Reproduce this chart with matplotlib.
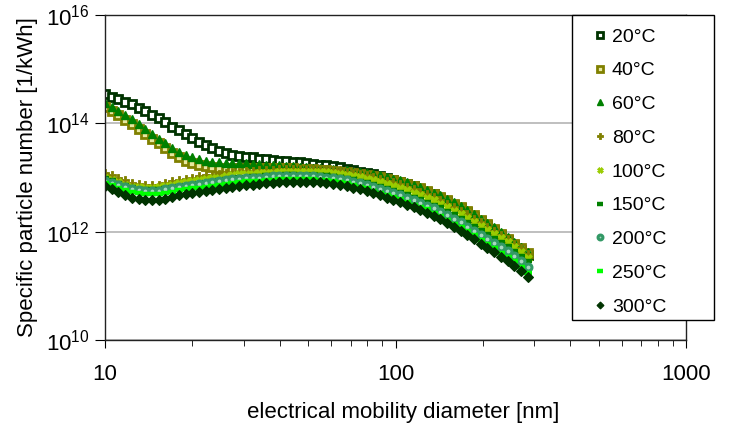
import numpy as np
import matplotlib
matplotlib.use('Agg')
import matplotlib.pyplot as plt
from matplotlib.patches import Rectangle
from matplotlib.ticker import FixedLocator, FixedFormatter, NullLocator, LogLocator, NullFormatter

plt.rcParams['font.family'] = ['Liberation Sans', 'DejaVu Sans']
plt.rcParams['mathtext.fontset'] = 'custom'
plt.rcParams['mathtext.rm'] = 'Liberation Sans'
plt.rcParams['mathtext.default'] = 'regular'

# ────────────────────────────────────────────────────────────────────────────────
# SMPS channel diameters [nm]
diam = [10.0, 10.55, 11.12, 11.73, 12.37, 13.05, 13.76, 14.51, 15.30, 16.14,
        17.02, 17.95, 18.93, 19.96, 21.05, 22.20, 23.42, 24.70, 26.04, 27.47,
        28.97, 30.55, 32.22, 33.98, 35.83, 37.79, 39.85, 42.03, 44.32, 46.75,
        49.30, 51.99, 54.83, 57.83, 60.98, 64.31, 67.83, 71.53, 75.44, 79.56,
        83.90, 88.48, 93.32, 98.41, 103.8, 109.5, 115.4, 121.7, 128.4, 135.4,
        142.8, 150.6, 158.8, 167.5, 176.6, 186.3, 196.4, 207.2, 218.5, 230.4,
        243.0, 256.3, 270.3, 285.0]

# log10 of specific particle number [1/kWh]
log_n_20 = [14.54, 14.49, 14.45, 14.40, 14.35, 14.29, 14.23, 14.16, 14.09, 14.02,
            13.94, 13.87, 13.80, 13.73, 13.66, 13.60, 13.54, 13.49, 13.45, 13.42,
            13.40, 13.38, 13.37, 13.35, 13.34, 13.33, 13.31, 13.30, 13.29, 13.28,
            13.27, 13.25, 13.24, 13.23, 13.21, 13.19, 13.16, 13.14, 13.11, 13.09,
            13.06, 13.03, 13.00, 12.96, 12.92, 12.88, 12.84, 12.79, 12.74, 12.69,
            12.63, 12.57, 12.50, 12.43, 12.36, 12.28, 12.20, 12.12, 12.03, 11.94,
            11.85, 11.76, 11.67, 11.57]
log_n_40 = [14.30, 14.23, 14.15, 14.07, 13.99, 13.90, 13.81, 13.72, 13.63, 13.54,
            13.45, 13.37, 13.31, 13.26, 13.23, 13.21, 13.19, 13.18, 13.18, 13.18,
            13.18, 13.18, 13.18, 13.18, 13.18, 13.18, 13.17, 13.17, 13.17, 13.16,
            13.16, 13.15, 13.14, 13.13, 13.12, 13.11, 13.10, 13.08, 13.07, 13.05,
            13.03, 13.01, 12.98, 12.95, 12.92, 12.88, 12.84, 12.80, 12.75, 12.70,
            12.64, 12.58, 12.52, 12.45, 12.38, 12.30, 12.22, 12.14, 12.05, 11.96,
            11.87, 11.78, 11.69, 11.60]
log_n_60 = [14.37, 14.30, 14.23, 14.16, 14.08, 13.99, 13.90, 13.81, 13.72, 13.63,
            13.55, 13.48, 13.42, 13.37, 13.34, 13.31, 13.29, 13.28, 13.27, 13.27,
            13.26, 13.26, 13.25, 13.25, 13.24, 13.23, 13.23, 13.22, 13.21, 13.20,
            13.19, 13.18, 13.17, 13.16, 13.15, 13.14, 13.13, 13.11, 13.10, 13.08,
            13.06, 13.04, 13.01, 12.98, 12.95, 12.91, 12.87, 12.83, 12.77, 12.72,
            12.67, 12.61, 12.54, 12.47, 12.40, 12.32, 12.24, 12.16, 12.08, 11.99,
            11.90, 11.81, 11.72, 11.62]
log_n_80 = [13.09, 13.05, 12.99, 12.95, 12.90, 12.88, 12.86, 12.86, 12.87, 12.89,
            12.93, 12.96, 12.98, 13.00, 13.02, 13.04, 13.05, 13.07, 13.08, 13.10,
            13.11, 13.12, 13.12, 13.13, 13.13, 13.14, 13.15, 13.16, 13.16, 13.15,
            13.15, 13.16, 13.15, 13.15, 13.14, 13.13, 13.11, 13.09, 13.07, 13.04,
            13.01, 12.98, 12.94, 12.91, 12.88, 12.83, 12.79, 12.74, 12.70, 12.64,
            12.59, 12.52, 12.46, 12.39, 12.32, 12.24, 12.17, 12.09, 12.02, 11.94,
            11.87, 11.78, 11.69, 11.58]
log_n_100 = [12.99, 12.95, 12.91, 12.87, 12.83, 12.82, 12.81, 12.81, 12.82, 12.84,
             12.87, 12.89, 12.91, 12.93, 12.95, 12.97, 12.99, 13.00, 13.02, 13.04,
             13.06, 13.06, 13.07, 13.08, 13.09, 13.09, 13.10, 13.11, 13.11, 13.10,
             13.10, 13.11, 13.10, 13.10, 13.08, 13.07, 13.05, 13.03, 13.01, 12.98,
             12.95, 12.91, 12.88, 12.84, 12.81, 12.77, 12.72, 12.68, 12.63, 12.58,
             12.52, 12.46, 12.39, 12.33, 12.25, 12.18, 12.10, 12.03, 11.96, 11.88,
             11.81, 11.72, 11.63, 11.52]
log_n_150 = [13.00, 12.96, 12.90, 12.86, 12.82, 12.79, 12.78, 12.78, 12.78, 12.80,
             12.82, 12.85, 12.87, 12.88, 12.90, 12.92, 12.94, 12.95, 12.97, 12.99,
             13.01, 13.01, 13.02, 13.03, 13.04, 13.04, 13.05, 13.06, 13.06, 13.05,
             13.05, 13.05, 13.05, 13.04, 13.02, 13.01, 12.99, 12.97, 12.94, 12.91,
             12.88, 12.84, 12.80, 12.77, 12.73, 12.69, 12.64, 12.60, 12.55, 12.50,
             12.45, 12.38, 12.32, 12.26, 12.18, 12.11, 12.03, 11.96, 11.89, 11.81,
             11.74, 11.65, 11.56, 11.45]
log_n_200 = [12.94, 12.90, 12.86, 12.82, 12.78, 12.77, 12.76, 12.76, 12.76, 12.78,
             12.81, 12.83, 12.85, 12.87, 12.88, 12.90, 12.92, 12.93, 12.95, 12.97,
             12.98, 12.99, 13.00, 13.00, 13.01, 13.02, 13.02, 13.03, 13.03, 13.02,
             13.02, 13.02, 13.01, 13.00, 12.99, 12.97, 12.95, 12.92, 12.89, 12.86,
             12.83, 12.79, 12.75, 12.71, 12.67, 12.62, 12.58, 12.53, 12.48, 12.43,
             12.37, 12.30, 12.24, 12.17, 12.09, 12.02, 11.94, 11.86, 11.79, 11.71,
             11.64, 11.55, 11.45, 11.35]
log_n_250 = [12.90, 12.86, 12.81, 12.77, 12.73, 12.71, 12.70, 12.70, 12.70, 12.72,
             12.74, 12.77, 12.78, 12.80, 12.81, 12.83, 12.85, 12.87, 12.88, 12.90,
             12.92, 12.93, 12.93, 12.94, 12.95, 12.96, 12.97, 12.97, 12.97, 12.97,
             12.97, 12.97, 12.96, 12.95, 12.93, 12.91, 12.89, 12.86, 12.83, 12.80,
             12.76, 12.72, 12.68, 12.64, 12.60, 12.55, 12.50, 12.45, 12.41, 12.35,
             12.29, 12.22, 12.15, 12.09, 12.01, 11.93, 11.85, 11.77, 11.69, 11.61,
             11.53, 11.45, 11.35, 11.24]
log_n_300 = [12.84, 12.79, 12.73, 12.68, 12.63, 12.60, 12.58, 12.58, 12.59, 12.61,
             12.64, 12.67, 12.69, 12.71, 12.73, 12.75, 12.77, 12.79, 12.81, 12.83,
             12.85, 12.86, 12.87, 12.88, 12.89, 12.90, 12.91, 12.92, 12.92, 12.92,
             12.92, 12.92, 12.91, 12.90, 12.88, 12.86, 12.84, 12.81, 12.78, 12.75,
             12.71, 12.67, 12.63, 12.59, 12.55, 12.50, 12.45, 12.40, 12.35, 12.29,
             12.23, 12.16, 12.09, 12.02, 11.94, 11.86, 11.78, 11.70, 11.62, 11.54,
             11.46, 11.37, 11.27, 11.16]

labels = ['20°C', '40°C', '60°C', '80°C', '100°C', '150°C', '200°C', '250°C', '300°C']
series = [log_n_20, log_n_40, log_n_60, log_n_80, log_n_100,
          log_n_150, log_n_200, log_n_250, log_n_300]

# marker, edge colour, face colour, size, edge width
styles = [('s', '#003300', 'white',   5.2, 2.0),
          ('s', '#808000', '#e8e8a0', 5.2, 2.0),
          ('^', '#008000', '#008000', 5.5, 1.0),
          ('P', '#808000', '#808000', 5.5, 0.6),
          ('X', '#99cc00', '#99cc00', 5.5, 0.6),
          ('_', '#008000', '#008000', 5.5, 3.2),
          ('o', '#339966', '#a8d8c0', 5.0, 2.2),
          ('_', '#00ff00', '#00ff00', 6.0, 3.2),
          ('D', '#003300', '#003300', 5.0, 0.8)]

# ────────────────────────────────────────────────────────────────────────────────
fig = plt.figure(figsize=(7.29, 4.30), dpi=100)
ax = fig.add_axes([105/729, 90/430, 581/729, 325/430])

d = np.array(diam)
for lab, vals, (m, ec, fc, ms, mew) in zip(labels, series, styles):
    ax.plot(d, 10**np.array(vals), linestyle='none', marker=m, markersize=ms,
            markeredgecolor=ec, markerfacecolor=fc, markeredgewidth=mew, label=lab)

ax.set_xscale('log')
ax.set_yscale('log')
ax.set_xlim(10, 1000)
ax.set_ylim(1e10, 1e16)

ax.yaxis.set_major_locator(FixedLocator([1e10, 1e12, 1e14, 1e16]))
ax.yaxis.set_minor_locator(NullLocator())
ax.xaxis.set_major_locator(FixedLocator([10, 100, 1000]))
ax.xaxis.set_major_formatter(FixedFormatter(['10', '100', '1000']))
ax.xaxis.set_minor_locator(LogLocator(base=10, subs=np.arange(2, 10)))
ax.xaxis.set_minor_formatter(NullFormatter())

ax.grid(axis='y', which='major', color='#b4b4b4', linewidth=1.2)
ax.set_axisbelow(True)
for s in ax.spines.values():
    s.set_linewidth(1.0)
    s.set_color('#222222')

ax.tick_params(axis='x', which='major', direction='out', length=6, labelsize=16, pad=11)
ax.tick_params(axis='x', which='minor', direction='out', length=4)
ax.tick_params(axis='y', which='major', direction='out', length=7, labelsize=16, pad=4)

ax.set_xlabel('electrical mobility diameter [nm]', fontsize=16, labelpad=18)
ax.xaxis.set_label_coords((403 - 105) / 581, -0.19)
ax.set_ylabel('Specific particle number [1/kWh]', fontsize=16, labelpad=6)

# legend box (spills over the right edge of the plot area)
box = Rectangle((572/729, 110/430), 142/729, 305/430, transform=fig.transFigure,
                facecolor='white', edgecolor='black', linewidth=1.0, zorder=4)
fig.patches.append(box)

handles, labs = ax.get_legend_handles_labels()
leg = fig.legend(handles, labs, loc='upper left', bbox_to_anchor=(592/729, 402/430),
                 fontsize=14, frameon=False, labelspacing=0.83, handlelength=0.8,
                 handletextpad=0.22, borderpad=0, borderaxespad=0, markerscale=0.7)
leg.set_zorder(5)

fig.savefig('out.png', dpi=100)
